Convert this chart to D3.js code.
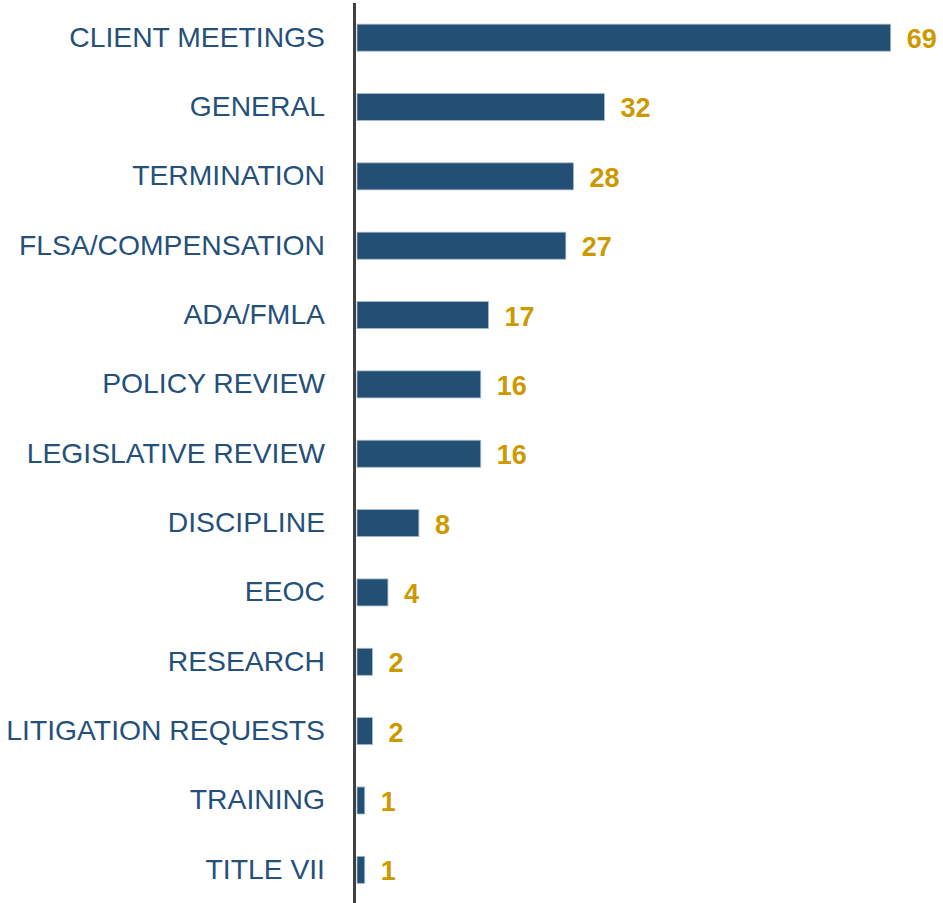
<!DOCTYPE html>
<html>
<head>
<meta charset="utf-8">
<script src="https://cdn.jsdelivr.net/npm/d3@7"></script>
<style>
  html, body { margin: 0; padding: 0; background: #fff; }
  svg { display: block; }
</style>
</head>
<body>
<svg id="chart" width="943" height="903"></svg>
<script>
const categories = ["CLIENT MEETINGS", "GENERAL", "TERMINATION", "FLSA/COMPENSATION", "ADA/FMLA",
  "POLICY REVIEW", "LEGISLATIVE REVIEW", "DISCIPLINE", "EEOC", "RESEARCH",
  "LITIGATION REQUESTS", "TRAINING", "TITLE VII"];
const counts = [69, 32, 28, 27, 17, 16, 16, 8, 4, 2, 2, 1, 1];

const data = categories.map((c, i) => ({ name: c, value: counts[i] }));

const svg = d3.select("#chart");
const barColor = "#244f75";
const labelColor = "#24507a";
const valueColor = "#cc9a00";

const x = d3.scaleLinear()
  .domain([0, 69])
  .range([357, 890.7]);

const y = d3.scaleBand()
  .domain(categories)
  .range([3, 904.5])
  .paddingInner(0.61)
  .paddingOuter(0.305);

// bars
svg.selectAll("rect.bar")
  .data(data)
  .enter()
  .append("rect")
  .attr("class", "bar")
  .attr("x", x(0))
  .attr("y", d => y(d.name))
  .attr("width", d => x(d.value) - x(0))
  .attr("height", y.bandwidth())
  .attr("fill", barColor)
  .attr("stroke", "#a8bcd0")
  .attr("stroke-width", 0.8);

// category labels
svg.selectAll("text.cat")
  .data(data)
  .enter()
  .append("text")
  .attr("class", "cat")
  .attr("x", 325)
  .attr("y", d => y(d.name) + y.bandwidth() / 2 - 1)
  .attr("dy", "0.35em")
  .attr("text-anchor", "end")
  .style("font-family", "'Liberation Sans', Arial, sans-serif")
  .style("font-size", "28.3px")
  .attr("fill", labelColor)
  .text(d => d.name);

// value labels
svg.selectAll("text.val")
  .data(data)
  .enter()
  .append("text")
  .attr("class", "val")
  .attr("x", d => x(d.value) + 16)
  .attr("y", d => y(d.name) + y.bandwidth() / 2 + 1)
  .attr("dy", "0.35em")
  .style("font-family", "'Liberation Sans', Arial, sans-serif")
  .style("font-size", "27px")
  .style("font-weight", "bold")
  .attr("fill", valueColor)
  .text(d => d.value);

// vertical axis line
svg.append("line")
  .attr("x1", 354.5)
  .attr("x2", 354.5)
  .attr("y1", 3)
  .attr("y2", 903)
  .attr("stroke", "#404040")
  .attr("stroke-width", 3);
</script>
</body>
</html>
